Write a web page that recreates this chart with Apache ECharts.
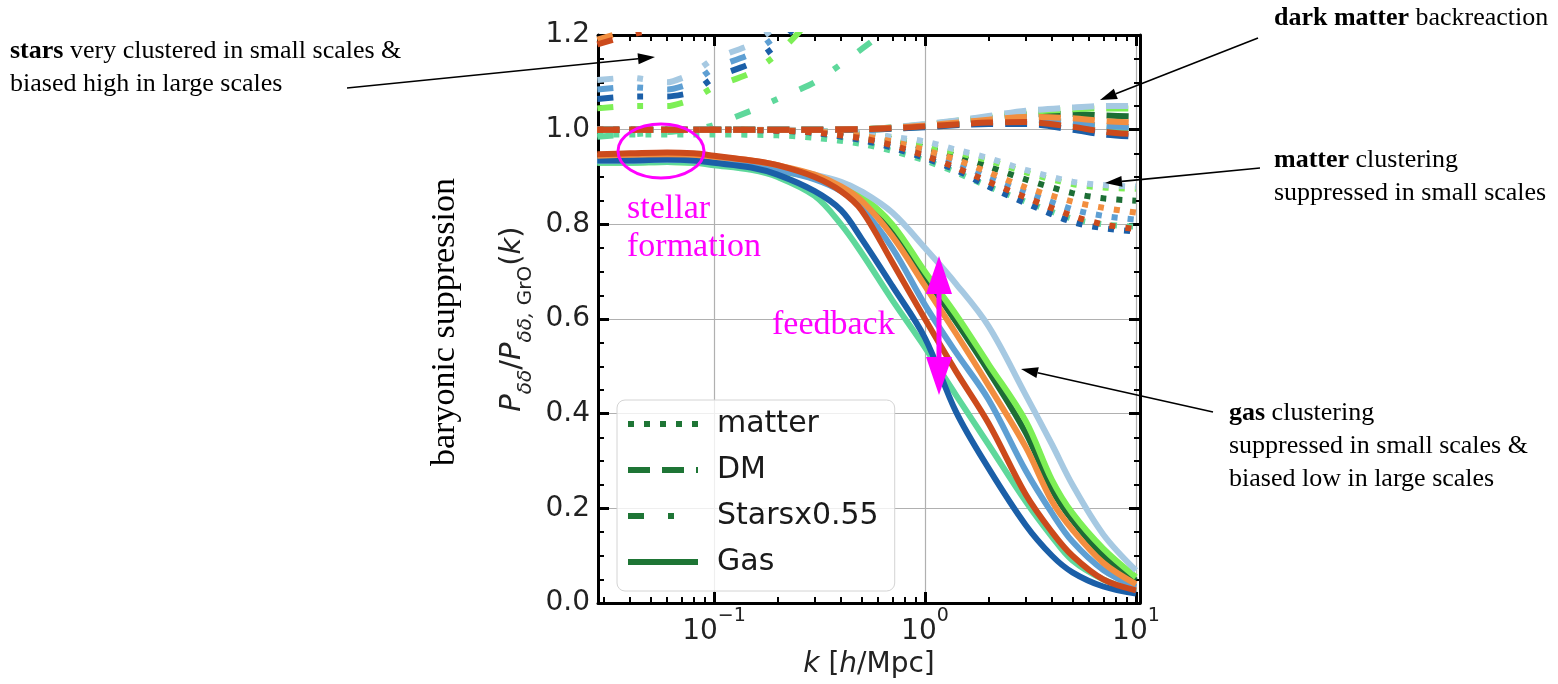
<!DOCTYPE html>
<html>
<head>
<meta charset="utf-8">
<script src="https://cdn.jsdelivr.net/npm/echarts@6.0.0/dist/echarts.min.js"></script>
<style>
  html, body { margin: 0; background: #fff; }
  #chart { width: 1558px; height: 684px; }
</style>
</head>
<body>
<div id="chart"></div>
<script>
// simulations, drawn in this order (last one on top)
const sims = ['darkgreen', 'brightgreen', 'mint', 'lightblue', 'medblue', 'darkblue', 'orange', 'red']
const simColors = {
    darkblue: '#1b5fa8',
    medblue: '#5e9fd3',
    lightblue: '#a6c9e2',
    red: '#cc4a1c',
    orange: '#f28e3f',
    darkgreen: '#1d6e35',
    brightgreen: '#7def55',
    mint: '#5ed89b',
}

// k [h/Mpc] sample points
const gasK = [0.028, 0.04, 0.06, 0.08, 0.1, 0.15, 0.2, 0.3, 0.4, 0.5, 0.7, 1.0, 1.4, 2, 3, 4, 5, 7, 10]
const matterK = [0.028, 0.05, 0.1, 0.2, 0.3, 0.5, 0.7, 1, 1.4, 2, 3, 5, 7, 10]
const dmK = [0.028, 0.1, 0.3, 0.5, 0.7, 1, 1.5, 2, 3, 5, 7, 10]
const starsK = [0.028, 0.04, 0.06, 0.08, 0.1, 0.15, 0.2, 0.3, 0.5, 0.8]

// gas
const gasDarkblue = [0.935, 0.935, 0.937, 0.935, 0.93, 0.92, 0.905, 0.87, 0.83, 0.77, 0.67, 0.56, 0.405, 0.285, 0.165, 0.10, 0.065, 0.035, 0.02]
const gasMint = [0.93, 0.93, 0.932, 0.93, 0.925, 0.915, 0.9, 0.86, 0.80, 0.74, 0.64, 0.54, 0.44, 0.335, 0.215, 0.14, 0.09, 0.05, 0.025]
const gasRed = [0.948, 0.95, 0.952, 0.95, 0.945, 0.935, 0.925, 0.90, 0.87, 0.83, 0.72, 0.60, 0.49, 0.38, 0.23, 0.15, 0.10, 0.05, 0.027]
const gasMedblue = [0.935, 0.935, 0.937, 0.935, 0.932, 0.925, 0.915, 0.895, 0.87, 0.835, 0.75, 0.63, 0.53, 0.43, 0.28, 0.19, 0.13, 0.07, 0.034]
const gasOrange = [0.945, 0.947, 0.948, 0.947, 0.943, 0.935, 0.925, 0.905, 0.88, 0.85, 0.775, 0.67, 0.57, 0.46, 0.33, 0.215, 0.155, 0.085, 0.04]
const gasDarkgreen = [0.935, 0.935, 0.937, 0.935, 0.932, 0.925, 0.915, 0.90, 0.88, 0.855, 0.79, 0.69, 0.595, 0.49, 0.36, 0.24, 0.175, 0.10, 0.048]
const gasBrightgreen = [0.93, 0.93, 0.932, 0.93, 0.928, 0.92, 0.912, 0.90, 0.882, 0.86, 0.80, 0.70, 0.61, 0.505, 0.385, 0.26, 0.19, 0.115, 0.055]
const gasLightblue = [0.935, 0.935, 0.937, 0.935, 0.933, 0.928, 0.92, 0.905, 0.89, 0.87, 0.825, 0.75, 0.675, 0.585, 0.44, 0.335, 0.25, 0.145, 0.069]

// matter
const matterDarkblue = [1.0, 1.0, 1.0, 0.998, 0.993, 0.978, 0.962, 0.94, 0.915, 0.88, 0.845, 0.805, 0.792, 0.785]
const matterMint = [0.99, 0.99, 0.99, 0.988, 0.983, 0.97, 0.955, 0.935, 0.91, 0.88, 0.848, 0.812, 0.80, 0.795]
const matterRed = [1.0, 1.0, 1.0, 0.998, 0.994, 0.982, 0.967, 0.945, 0.92, 0.89, 0.857, 0.818, 0.80, 0.79]
const matterMedblue = [1.0, 1.0, 1.0, 0.998, 0.995, 0.985, 0.972, 0.952, 0.93, 0.90, 0.868, 0.832, 0.818, 0.81]
const matterOrange = [1.0, 1.0, 1.0, 0.999, 0.996, 0.987, 0.975, 0.957, 0.937, 0.91, 0.878, 0.848, 0.835, 0.825]
const matterDarkgreen = [1.0, 1.0, 1.0, 0.999, 0.997, 0.99, 0.98, 0.962, 0.945, 0.922, 0.895, 0.866, 0.855, 0.85]
const matterBrightgreen = [1.0, 1.0, 1.0, 0.999, 0.998, 0.992, 0.983, 0.967, 0.952, 0.935, 0.91, 0.885, 0.878, 0.875]
const matterLightblue = [1.0, 1.0, 1.0, 1.0, 0.998, 0.993, 0.985, 0.975, 0.958, 0.94, 0.915, 0.89, 0.883, 0.88]

// dark matter
const dmDarkblue = [1.0, 1.0, 1.0, 1.0, 1.002, 1.005, 1.01, 1.012, 1.012, 1.0, 0.99, 0.985]
const dmMint = [1.0, 1.0, 1.0, 1.0, 1.002, 1.006, 1.012, 1.016, 1.02, 1.012, 1.005, 1.0]
const dmRed = [1.0, 1.0, 1.0, 1.001, 1.003, 1.007, 1.012, 1.015, 1.016, 1.006, 0.996, 0.99]
const dmMedblue = [1.0, 1.0, 1.0, 1.001, 1.003, 1.008, 1.014, 1.018, 1.022, 1.015, 1.008, 1.005]
const dmOrange = [1.0, 1.0, 1.0, 1.001, 1.004, 1.009, 1.016, 1.021, 1.027, 1.024, 1.018, 1.015]
const dmDarkgreen = [1.0, 1.0, 1.0, 1.001, 1.004, 1.01, 1.018, 1.024, 1.032, 1.033, 1.03, 1.028]
const dmBrightgreen = [1.0, 1.0, 1.0, 1.001, 1.005, 1.011, 1.02, 1.027, 1.037, 1.043, 1.045, 1.045]
const dmLightblue = [1.0, 1.0, 1.0, 1.001, 1.005, 1.012, 1.021, 1.029, 1.04, 1.047, 1.05, 1.05]

// stars x0.55
const starsLightblue = [1.105, 1.11, 1.10, 1.12, 1.15, 1.18, 1.22, 1.30, 1.40, 1.5]
const starsMedblue = [1.085, 1.09, 1.085, 1.10, 1.13, 1.16, 1.20, 1.28, 1.38, 1.48]
const starsDarkblue = [1.065, 1.07, 1.07, 1.08, 1.11, 1.14, 1.18, 1.26, 1.36, 1.46]
const starsBrightgreen = [1.045, 1.05, 1.05, 1.065, 1.09, 1.12, 1.16, 1.24, 1.34, 1.44]
const starsRed = [1.18, 1.2, 1.22, 1.25, 1.28, 1.33, 1.38, 1.45, 1.55, 1.65]
const starsOrange = [1.19, 1.21, 1.23, 1.26, 1.29, 1.34, 1.39, 1.46, 1.56, 1.66]
const starsDarkgreen = [1.22, 1.24, 1.26, 1.28, 1.31, 1.36, 1.41, 1.48, 1.58, 1.68]
const starsMint = [0.985, 0.99, 0.995, 1.0, 1.01, 1.04, 1.065, 1.10, 1.17, 1.24]

// axis ticks (in k)
const majorK = [0.1, 1, 10]
const legendNames = ['matter', 'DM', 'Starsx0.55', 'Gas']

const gas = { darkblue: gasDarkblue, mint: gasMint, red: gasRed, medblue: gasMedblue, orange: gasOrange, darkgreen: gasDarkgreen, brightgreen: gasBrightgreen, lightblue: gasLightblue }
const matter = { darkblue: matterDarkblue, mint: matterMint, red: matterRed, medblue: matterMedblue, orange: matterOrange, darkgreen: matterDarkgreen, brightgreen: matterBrightgreen, lightblue: matterLightblue }
const dm = { darkblue: dmDarkblue, mint: dmMint, red: dmRed, medblue: dmMedblue, orange: dmOrange, darkgreen: dmDarkgreen, brightgreen: dmBrightgreen, lightblue: dmLightblue }
const stars = { darkblue: starsDarkblue, mint: starsMint, red: starsRed, medblue: starsMedblue, orange: starsOrange, darkgreen: starsDarkgreen, brightgreen: starsBrightgreen, lightblue: starsLightblue }

const X_MIN = Math.log10(0.0282)
const X_MAX = Math.log10(10.45)
const legendGreen = '#1e7535'

const styles = {
    matter: { type: [6, 10], width: 6 },
    DM: { type: [22, 12], width: 6 },
    'Starsx0.55': { type: [16, 24, 6, 24], width: 6 },
    Gas: { type: 'solid', width: 6 },
}

function pts(ks, vs) {
    return ks.map((k, i) => [Math.log10(k), vs[i]])
}

const majorTicks = majorK.map(k => Math.log10(k))
const minorTicks = []
for (let d = -2; d <= 1; d++) {
    for (let m = 2; m <= 9; m++) {
        const v = Math.log10(m * Math.pow(10, d))
        if (v > X_MIN && v < X_MAX) minorTicks.push(v)
    }
}

const series = []
sims.forEach(s => {
    const c = simColors[s]
    const mk = (name, ks, vs, smooth) => ({
        name: name + '-' + s,
        type: 'line',
        data: pts(ks, vs),
        symbol: 'none',
        smooth: smooth,
        silent: true,
        lineStyle: { color: c, width: styles[name].width, type: styles[name].type },
        itemStyle: { color: c },
    })
    series.push(mk('matter', matterK, matter[s], 0.3))
    series.push(mk('DM', dmK, dm[s], 0.3))
    series.push(mk('Starsx0.55', starsK, stars[s], 0.2))
    series.push(mk('Gas', gasK, gas[s], 0.35))
})
// legend-only entries
legendNames.forEach(n => {
    series.push({
        name: n,
        type: 'line',
        data: [],
        symbol: 'none',
        lineStyle: { color: legendGreen, width: 6, type: styles[n].type },
        itemStyle: { color: legendGreen },
    })
})

const tickFont = 'DejaVu Sans'
const xMajorBase = {
    type: 'value',
    min: X_MIN,
    max: X_MAX,
    axisLine: { show: true, onZero: false, lineStyle: { color: '#000', width: 3 } },
    axisTick: { show: true, inside: true, length: 11, customValues: majorTicks, lineStyle: { color: '#000', width: 3 } },
    splitLine: { show: false },
    axisLabel: { show: false },
}
const xMinorBase = {
    type: 'value',
    min: X_MIN,
    max: X_MAX,
    axisLine: { show: false, onZero: false },
    axisTick: { show: true, inside: true, length: 6, customValues: minorTicks, lineStyle: { color: '#000', width: 2 } },
    splitLine: { show: false },
    axisLabel: { show: false },
}

const chart = echarts.init(document.getElementById('chart'))

function arrow(x1, y1, x2, y2) {
    const a = Math.atan2(y2 - y1, x2 - x1)
    const L = 17
    const W = 5.5
    const bx = x2 - L * Math.cos(a)
    const by = y2 - L * Math.sin(a)
    return [
        { type: 'line', z: 100, shape: { x1: x1, y1: y1, x2: bx, y2: by }, style: { stroke: '#000', lineWidth: 1.6 } },
        {
            type: 'polygon', z: 100,
            shape: { points: [[x2, y2], [bx - W * Math.sin(a), by + W * Math.cos(a)], [bx + W * Math.sin(a), by - W * Math.cos(a)]] },
            style: { fill: '#000' },
        },
    ]
}

const serif = 'Liberation Serif'
const noteRich = {
    b: { fontFamily: serif, fontSize: 26, fontWeight: 'bold', color: '#000', lineHeight: 33 },
    n: { fontFamily: serif, fontSize: 26, color: '#000', lineHeight: 33 },
}
function note(x, y, text) {
    return {
        type: 'text', z: 100, x: x, y: y,
        style: { text: text, rich: noteRich, fontFamily: serif, fontSize: 26, fill: '#000', lineHeight: 33, textVerticalAlign: 'top', verticalAlign: 'top' },
    }
}
function magentaText(x, y, text) {
    return {
        type: 'text', z: 100, x: x, y: y,
        style: { text: text, fontFamily: serif, fontSize: 34, fill: '#ff00ff', lineHeight: 38, textVerticalAlign: 'top', verticalAlign: 'top' },
    }
}

const graphics = [].concat(
    note(10, 35, '{b|stars}{n| very clustered in small scales &}\n{n|biased high in large scales}'),
    arrow(347, 88, 655, 57),
    note(1274, 2, '{b|dark matter}{n| backreaction}'),
    arrow(1258, 38, 1100, 100),
    note(1274, 144, '{b|matter}{n| clustering}\n{n|suppressed in small scales}'),
    arrow(1260, 168, 1105, 183),
    note(1229, 397, '{b|gas}{n| clustering}\n{n|suppressed in small scales &}\n{n|biased low in large scales}'),
    arrow(1213, 412, 1021, 369),
    [
        {
            type: 'text', z: 100, x: 445, y: 322, rotation: Math.PI / 2,
            style: { text: 'baryonic suppression', fontFamily: serif, fontSize: 34, fill: '#000', textAlign: 'center', align: 'center', textVerticalAlign: 'middle', verticalAlign: 'middle' },
        },
        {
            type: 'ellipse', z: 100,
            shape: { cx: 661, cy: 151, rx: 43, ry: 27 },
            style: { fill: 'none', stroke: '#ff00ff', lineWidth: 3 },
        },
        {
            type: 'polygon', z: 100,
            shape: { points: [[939, 256], [952, 294], [941.5, 294], [941.5, 357], [952, 357], [939, 395], [926, 357], [936.5, 357], [936.5, 294], [926, 294]] },
            style: { fill: '#ff00ff' },
        },
    ],
    magentaText(627, 190, 'stellar\nformation'),
    magentaText(772, 306, 'feedback')
)

chart.setOption({
    animation: false,
    backgroundColor: '#fff',
    grid: { left: 598, right: 418, top: 35, bottom: 78, containLabel: false },
    legend: {
        data: legendNames,
        orient: 'vertical',
        left: 617,
        top: 400,
        itemWidth: 70,
        itemHeight: 20,
        itemGap: 12,
        padding: [7, 16, 12, 8],
        backgroundColor: 'rgba(255,255,255,0.8)',
        borderColor: '#d4d4d4',
        borderWidth: 1,
        borderRadius: 8,
        itemStyle: { opacity: 0 },
        lineStyle: { width: 6 },
        textStyle: { fontFamily: tickFont, fontSize: 30, color: '#1a1a1a', lineHeight: 34, padding: [0, 0, 0, 14] },
    },
    xAxis: [
        Object.assign({}, xMajorBase, {
            position: 'bottom',
            splitLine: { show: true, lineStyle: { color: '#b0b0b0', width: 1.2 } },
            axisLabel: {
                show: true,
                customValues: majorTicks,
                margin: 3,
                formatter: v => {
                    const e = Math.round(v)
                    return '{b|10}{s|' + (e < 0 ? '\u2212' + (-e) : e) + '}'
                },
                rich: {
                    b: { fontFamily: tickFont, fontSize: 28, color: '#222', lineHeight: 40, verticalAlign: 'bottom' },
                    s: { fontFamily: tickFont, fontSize: 19, color: '#222', lineHeight: 22, verticalAlign: 'top' },
                },
            },
            name: '{i|k}{n| [}{i|h}{n|/Mpc]}',
            nameLocation: 'middle',
            nameGap: 42,
            nameTextStyle: {
                rich: {
                    i: { fontFamily: tickFont, fontSize: 28, fontStyle: 'italic', color: '#222' },
                    n: { fontFamily: tickFont, fontSize: 28, color: '#222' },
                },
            },
        }),
        Object.assign({}, xMinorBase, { position: 'bottom' }),
        Object.assign({}, xMajorBase, { position: 'top' }),
        Object.assign({}, xMinorBase, { position: 'top' }),
    ],
    yAxis: [
        {
            type: 'value',
            position: 'left',
            min: 0,
            max: 1.2,
            interval: 0.2,
            axisLine: { show: true, onZero: false, lineStyle: { color: '#000', width: 3 } },
            axisTick: { show: true, inside: true, length: 11, lineStyle: { color: '#000', width: 3 } },
            minorTick: { show: true, splitNumber: 4, length: 6, lineStyle: { color: '#000', width: 2 } },
            splitLine: { show: true, lineStyle: { color: '#b0b0b0', width: 1.2 } },
            axisLabel: {
                margin: 8,
                formatter: v => v.toFixed(1),
                fontFamily: tickFont,
                fontSize: 28,
                color: '#222',
            },
            name: '{i|P}{si|\u03b4\u03b4}{n|/}{i|P}{si|\u03b4\u03b4,}{s| GrO}{n|(}{i|k}{n|)}',
            nameLocation: 'middle',
            nameRotate: 90,
            nameGap: 62,
            nameTextStyle: {
                rich: {
                    i: { fontFamily: tickFont, fontSize: 29, fontStyle: 'italic', color: '#222', lineHeight: 38, verticalAlign: 'top' },
                    n: { fontFamily: tickFont, fontSize: 29, color: '#222', lineHeight: 38, verticalAlign: 'top' },
                    si: { fontFamily: tickFont, fontSize: 20, fontStyle: 'italic', color: '#222', lineHeight: 22, verticalAlign: 'bottom' },
                    s: { fontFamily: tickFont, fontSize: 20, color: '#222', lineHeight: 22, verticalAlign: 'bottom' },
                },
            },
        },
        {
            type: 'value',
            position: 'right',
            min: 0,
            max: 1.2,
            interval: 0.2,
            axisLine: { show: true, onZero: false, lineStyle: { color: '#000', width: 3 } },
            axisTick: { show: true, inside: true, length: 11, lineStyle: { color: '#000', width: 3 } },
            minorTick: { show: true, splitNumber: 4, length: 6, lineStyle: { color: '#000', width: 2 } },
            splitLine: { show: false },
            axisLabel: { show: false },
        },
    ],
    series: series,
    graphic: { elements: graphics },
})
</script>
</body>
</html>
